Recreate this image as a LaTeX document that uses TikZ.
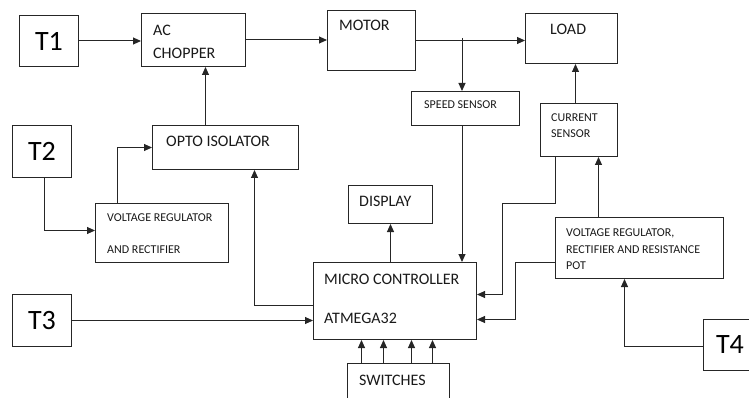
\documentclass[tikz,border=0pt]{standalone}
\usepackage{fontspec}
\setmainfont{Carlito}
\usetikzlibrary{arrows.meta}

\tikzset{
  blk/.style={draw=black!85,line width=1pt,inner sep=0pt,anchor=north west},
  term/.style={blk,font=\fontsize{28}{28}\selectfont,text=black},
  lbl/.style={anchor=base west,inner sep=0pt,text=black!90,font=\fontsize{16}{18}\selectfont},
  sml/.style={lbl,font=\fontsize{12}{14}\selectfont},
  wire/.style={draw=black!85,line width=1pt},
  arr/.style={wire,-{Triangle[length=8pt,width=7pt]}},
}

\begin{document}
\begin{tikzpicture}[x=1pt,y=-1pt]
  \useasboundingbox (0,0) rectangle (749,398);

  % terminals
  \node[term,minimum width=59,minimum height=51] (t1) at (19,15) {T1};
  \node[term,minimum width=59,minimum height=52] (t2) at (12,125) {T2};
  \node[term,minimum width=59,minimum height=52] (t3) at (12,294) {T3};
  \node[term,minimum width=53,minimum height=51] (t4) at (703,319) {T4};

  % blocks
  \node[blk,minimum width=104,minimum height=53] (chopper) at (141,13) {};
  \node[blk,minimum width=88,minimum height=60] (motor) at (327,10) {};
  \node[blk,minimum width=92,minimum height=50] (load) at (525,13) {};
  \node[blk,minimum width=108,minimum height=34] (speed) at (411,91) {};
  \node[blk,minimum width=77,minimum height=53] (current) at (540,103) {};
  \node[blk,minimum width=146,minimum height=44] (opto) at (152,125) {};
  \node[blk,minimum width=133,minimum height=59] (vrone) at (95,203) {};
  \node[blk,minimum width=84,minimum height=38] (display) at (348,185) {};
  \node[blk,minimum width=163,minimum height=77] (mc) at (313,262) {};
  \node[blk,minimum width=102,minimum height=45] (switches) at (347,363) {};
  \node[blk,minimum width=168,minimum height=61] (vrtwo) at (555,217) {};

  % block texts
  \node[lbl] (chopper-a) at (153,36) {AC};
  \node[lbl] (chopper-b) at (153,59) {CHOPPER};
  \node[lbl] (motor-t) at (339,31) {MOTOR};
  \node[lbl] (load-t) at (550,35) {LOAD};
  \node[sml] (speed-t) at (424,109) {SPEED SENSOR};
  \node[sml] (current-a) at (551,122) {CURRENT};
  \node[sml] (current-b) at (551,138) {SENSOR};
  \node[lbl] (opto-t) at (166,147) {OPTO ISOLATOR};
  \node[sml] (vrone-a) at (107,221) {VOLTAGE REGULATOR};
  \node[sml] (vrone-b) at (107,253) {AND RECTIFIER};
  \node[lbl] (display-t) at (359,207) {DISPLAY};
  \node[lbl] (mc-a) at (324,284) {MICRO CONTROLLER};
  \node[lbl] (mc-b) at (324,323) {ATMEGA32};
  \node[lbl] (switches-t) at (359,385) {SWITCHES};
  \node[sml] (vrtwo-a) at (566,236) {VOLTAGE REGULATOR,};
  \node[sml] (vrtwo-b) at (566,253) {RECTIFIER AND RESISTANCE};
  \node[sml] (vrtwo-c) at (566,269) {POT};

  % bends
  \coordinate (tap) at (462,38);
  \coordinate (bone) at (502,203);
  \coordinate (btwo) at (515,262);

  % power path
  \draw[arr] (t1.east) -- (t1.east -| chopper.west);
  \draw[arr] (chopper.east) -- (chopper.east -| motor.west);
  \draw[arr] (motor.east) -- (motor.east -| load.west);
  \draw[arr] (tap) -- (tap |- speed.north);
  \draw[arr] ([shift={(-3.5,0)}]current.north) -- ([shift={(-3.5,0)}]current.north |- load.south);
  \draw[arr] ([shift={(-20,0)}]opto.north) -- ([shift={(-20,0)}]opto.north |- chopper.south);

  % supplies
  \draw[arr] ([shift={(2.5,0)}]t2.south) |- ([shift={(0,-2.5)}]vrone.west);
  \draw[arr] ([shift={(-44.5,0)}]vrone.north) |- (opto.west);
  \draw[arr] ([shift={(-41,0)}]vrtwo.north) -- ([shift={(-41,0)}]vrtwo.north |- current.south);
  \draw[arr] ([shift={(0,1.5)}]t4.west) -| ([shift={(-15,0)}]vrtwo.south);

  % controller
  \draw[arr] ([shift={(0,4.5)}]mc.west) -| ([shift={(29,0)}]opto.south);
  \draw[arr] (mc.north -| display.south) -- (display.south);
  \draw[arr] (tap |- speed.south) -- (tap |- mc.north);
  \draw[arr] (t3.east) -- (t3.east -| mc.west);
  \draw[arr] ([shift={(-23.5,0)}]current.south) |- (bone) |- ([shift={(0,-6.5)}]mc.east);
  \draw[arr] (vrtwo.west |- btwo) -- (btwo) |- ([shift={(0,18.5)}]mc.east);
  \foreach \dx in {-37,-15,13,34}
    \draw[arr] ([shift={(\dx,0)}]switches.north) -- ([shift={(\dx,0)}]switches.north |- mc.south);
\end{tikzpicture}
\end{document}
